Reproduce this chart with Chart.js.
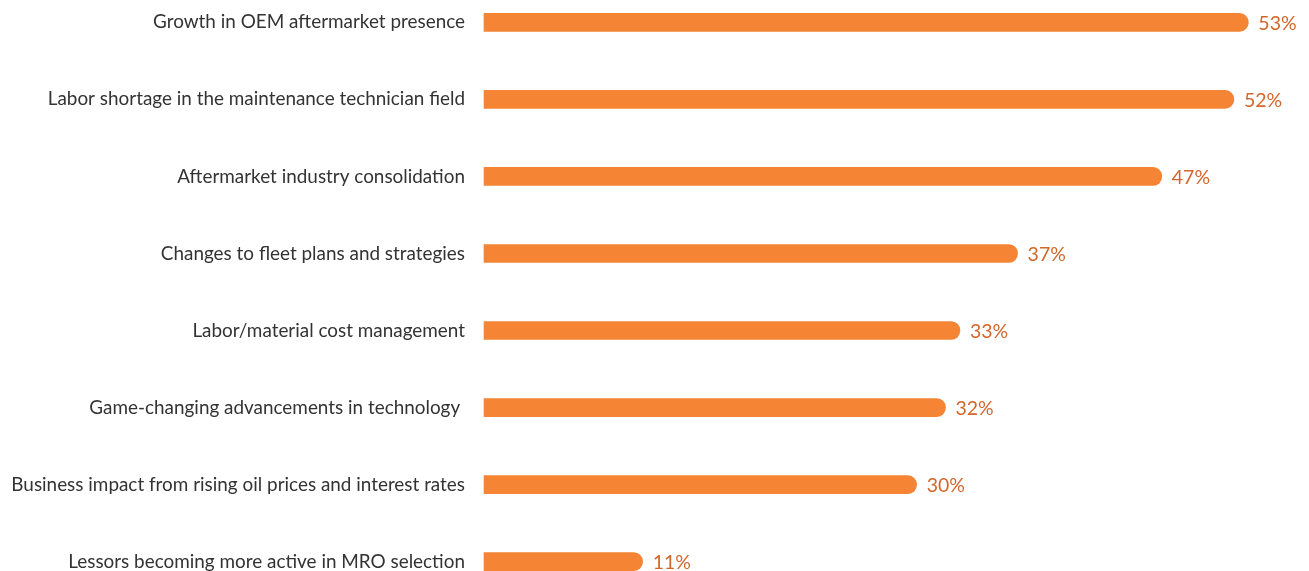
<!DOCTYPE html>
<html>
<head>
<meta charset="utf-8">
<script src="https://cdn.jsdelivr.net/npm/chart.js@4/dist/chart.umd.min.js"></script>
<style>
  html, body { margin: 0; padding: 0; background: #ffffff; }
  #wrap { position: relative; width: 1309px; height: 571px; overflow: hidden; }
  #c { position: absolute; left: 0; top: -8px; }
</style>
</head>
<body>
<div id="wrap"><canvas id="c" width="1309" height="600"></canvas></div>
<script>
const categories = [
  "Growth in OEM aftermarket presence",
  "Labor shortage in the maintenance technician field",
  "Aftermarket industry consolidation",
  "Changes to fleet plans and strategies",
  "Labor/material cost management",
  "Game-changing advancements in technology ",
  "Business impact from rising oil prices and interest rates",
  "Lessors becoming more active in MRO selection"
];
const shares = [53, 52, 47, 37, 33, 32, 30, 11];
const valueLabels = ["53%", "52%", "47%", "37%", "33%", "32%", "30%", "11%"];

const BAR_COLOR = "#f58535";
const VALUE_COLOR = "#d2672c";
const TEXT_COLOR = "#333333";
const FONT = "Lato, 'Open Sans', sans-serif";

// Writes the percentage just past the rounded end of each bar
const valueLabelPlugin = {
  id: "valueLabels",
  afterDatasetsDraw(chart) {
    const ctx = chart.ctx;
    const meta = chart.getDatasetMeta(0);
    ctx.save();
    ctx.font = "19.5px " + FONT;
    ctx.fillStyle = VALUE_COLOR;
    ctx.textAlign = "left";
    ctx.textBaseline = "middle";
    meta.data.forEach((bar, i) => {
      ctx.fillText(valueLabels[i], bar.x + 10, bar.y + 1.5);
    });
    ctx.restore();
  }
};

new Chart(document.getElementById("c"), {
  type: "bar",
  data: {
    labels: categories,
    datasets: [{
      data: shares,
      backgroundColor: BAR_COLOR,
      barThickness: 18,
      borderSkipped: "start",
      borderRadius: { topLeft: 0, bottomLeft: 0, topRight: 9, bottomRight: 9 },
      clip: false
    }]
  },
  options: {
    indexAxis: "y",
    responsive: false,
    animation: false,
    events: [],
    layout: { padding: { top: 0, bottom: 0, left: 0, right: 3 } },
    plugins: { legend: { display: false }, tooltip: { enabled: false } },
    scales: {
      x: {
        min: 0,
        max: 57,
        display: false
      },
      y: {
        offset: false,
        grid: { display: false, drawTicks: false },
        border: { display: false },
        afterFit(scale) { scale.width = 484; },
        ticks: {
          padding: 19,
          color: TEXT_COLOR,
          font: { family: FONT, size: 18.9 }
        }
      }
    }
  },
  plugins: [valueLabelPlugin]
});
</script>
</body>
</html>
